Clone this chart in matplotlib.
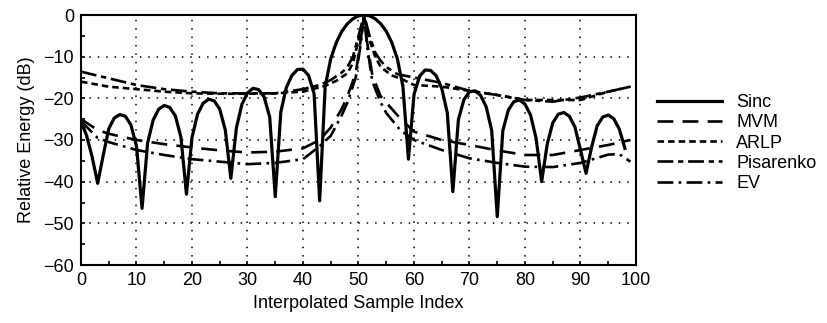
import matplotlib
matplotlib.use("Agg")
import matplotlib.pyplot as plt
from matplotlib.ticker import MultipleLocator

plt.rcParams['font.family'] = ['Liberation Sans', 'DejaVu Sans']

# ---- data ----
sinc_x = list(range(0, 99))
sinc_db = [
    -25.5, -28.9, -34.0, -40.4, -33.7, -27.3, -24.7, -23.9, -24.3, -26.4,
    -31.5, -46.4, -30.7, -25.2, -22.6, -21.7, -22.2, -24.2, -29.3, -43.0,
    -29.4, -23.8, -21.2, -20.2, -20.6, -22.6, -27.6, -39.2, -27.1, -21.4,
    -18.7, -17.6, -17.9, -19.7, -24.5, -43.6, -23.3, -17.4, -14.5, -13.1,
    -13.0, -14.5, -18.9, -44.6, -17.1, -10.5, -6.6, -3.9, -2.1, -0.9,
    -0.2, 0.0, -0.2, -0.9, -2.1, -3.9, -6.6, -10.5, -17.1, -34.6,
    -19.1, -14.7, -13.2, -13.3, -14.6, -17.6, -23.5, -42.4, -25.1, -20.3,
    -18.4, -18.2, -19.3, -22.0, -27.7, -48.4, -27.8, -22.8, -20.8, -20.4,
    -21.4, -24.0, -29.6, -40.0, -31.0, -25.9, -23.8, -23.4, -24.3, -26.9,
    -32.4, -38.0, -31.7, -26.6, -24.5, -24.0, -24.9, -27.4, -32.0,
]

mvm_x = [0, 3, 5, 10, 15, 20, 25, 30, 35, 40, 43, 45, 47, 48, 49.5, 50.5, 51,
         51.5, 52.5, 54, 55, 57.5, 60, 65, 70, 75, 80, 85, 90, 95, 99]
mvm_db = [-25.0, -27.6, -28.5, -30.0, -31.0, -31.8, -32.5, -33.0, -32.8, -32.0, -30.0,
          -27.0, -22.5, -19.5, -14.0, -5.0, 0.0,
          -6.0, -14.5, -19.5, -21.0, -24.8, -28.0, -30.0, -31.2, -32.5, -33.6, -33.6, -32.4, -31.2, -30.0]

ev_x = [0, 3, 5, 10, 15, 20, 25, 30, 35, 40, 43, 45, 47, 48, 49.5, 50.5, 51,
        51.5, 52.5, 54, 55, 57.5, 60, 65, 70, 75, 80, 85, 90, 95, 97, 99]
ev_db = [-25.5, -29.5, -30.5, -32.4, -33.6, -34.6, -35.2, -35.8, -35.5, -34.6, -31.5,
         -29.0, -24.0, -21.0, -15.0, -6.0, 0.0,
         -7.0, -16.0, -21.0, -23.5, -27.6, -30.0, -32.4, -34.4, -35.5, -36.4, -36.5, -35.5, -33.5, -33.4, -35.2]

arlp_x = [0, 5, 10, 15, 20, 25, 30, 35, 40, 44, 46, 48, 49, 50, 51,
          52, 53, 54, 56, 58, 60, 65, 70, 75, 80, 85, 90, 95, 99]
arlp_db = [-16.0, -17.2, -17.8, -18.4, -18.8, -18.9, -18.9, -18.8, -18.4, -17.0, -15.8, -14.0, -11.5, -6.0, 0.0,
           -6.0, -10.0, -12.5, -14.5, -15.5, -16.8, -17.2, -18.2, -19.2, -20.4, -20.4, -20.4, -18.4, -17.2]

pis_x = [0, 5, 10, 15, 20, 25, 30, 35, 40, 43, 45, 47, 48, 49, 50, 51,
         52, 53, 54, 55, 57, 60, 65, 70, 75, 80, 85, 90, 95, 99]
pis_db = [-13.6, -15.2, -16.8, -17.8, -18.4, -18.8, -18.8, -18.8, -17.8, -16.8, -15.6, -13.8, -12.5, -10.0, -5.0, 0.0,
          -5.0, -9.0, -11.0, -12.5, -14.2, -15.0, -16.3, -18.2, -19.2, -20.4, -20.8, -19.8, -18.4, -17.2]

labels = ["Sinc", "MVM", "ARLP", "Pisarenko", "EV"]

fig = plt.figure(figsize=(8.28, 3.23), dpi=100)
ax = fig.add_axes([81/828, 58/323, 555/828, 250/323])

lw = 1.9
ax.plot(sinc_x, sinc_db, color="black", lw=lw + 0.4, ls="-", label=labels[0])
ax.plot(mvm_x, mvm_db, color="black", lw=lw, ls=(0, (6, 3.5)), label=labels[1])
ax.plot(arlp_x, arlp_db, color="black", lw=lw, ls=(0, (2.5, 1.5)), label=labels[2])
ax.plot(pis_x, pis_db, color="black", lw=lw, ls=(0, (6, 1.8, 2, 1.8)), label=labels[3])
ax.plot(ev_x, ev_db, color="black", lw=lw, ls=(0, (6, 2, 1, 2)), label=labels[4])

ax.set_xlim(0, 100)
ax.set_ylim(-60, 0)
ax.xaxis.set_major_locator(MultipleLocator(10))
ax.xaxis.set_minor_locator(MultipleLocator(5))
ax.yaxis.set_major_locator(MultipleLocator(10))
ax.yaxis.set_minor_locator(MultipleLocator(5))
ax.tick_params(which="both", direction="in", length=3, width=1.2, labelsize=13, pad=5)
ax.tick_params(which="both", top=False, right=False)
ax.set_yticklabels([f"{int(v)}".replace("-", "\u2212") for v in ax.get_yticks()])
ax.grid(which="major", color="black", ls=(0, (1, 4.5)), lw=1.1)
for s in ax.spines.values():
    s.set_linewidth(1.5)

ax.set_xlabel("Interpolated Sample Index", fontsize=13, labelpad=4)
ax.set_ylabel("Relative Energy (dB)", fontsize=13, labelpad=6)

fig.legend(loc="upper left", bbox_to_anchor=(657/828, 1 - 94/323), frameon=False,
           fontsize=13, handlelength=3.6, handletextpad=0.8, labelspacing=0.18,
           borderpad=0, borderaxespad=0)

fig.savefig("out.png", dpi=100)
